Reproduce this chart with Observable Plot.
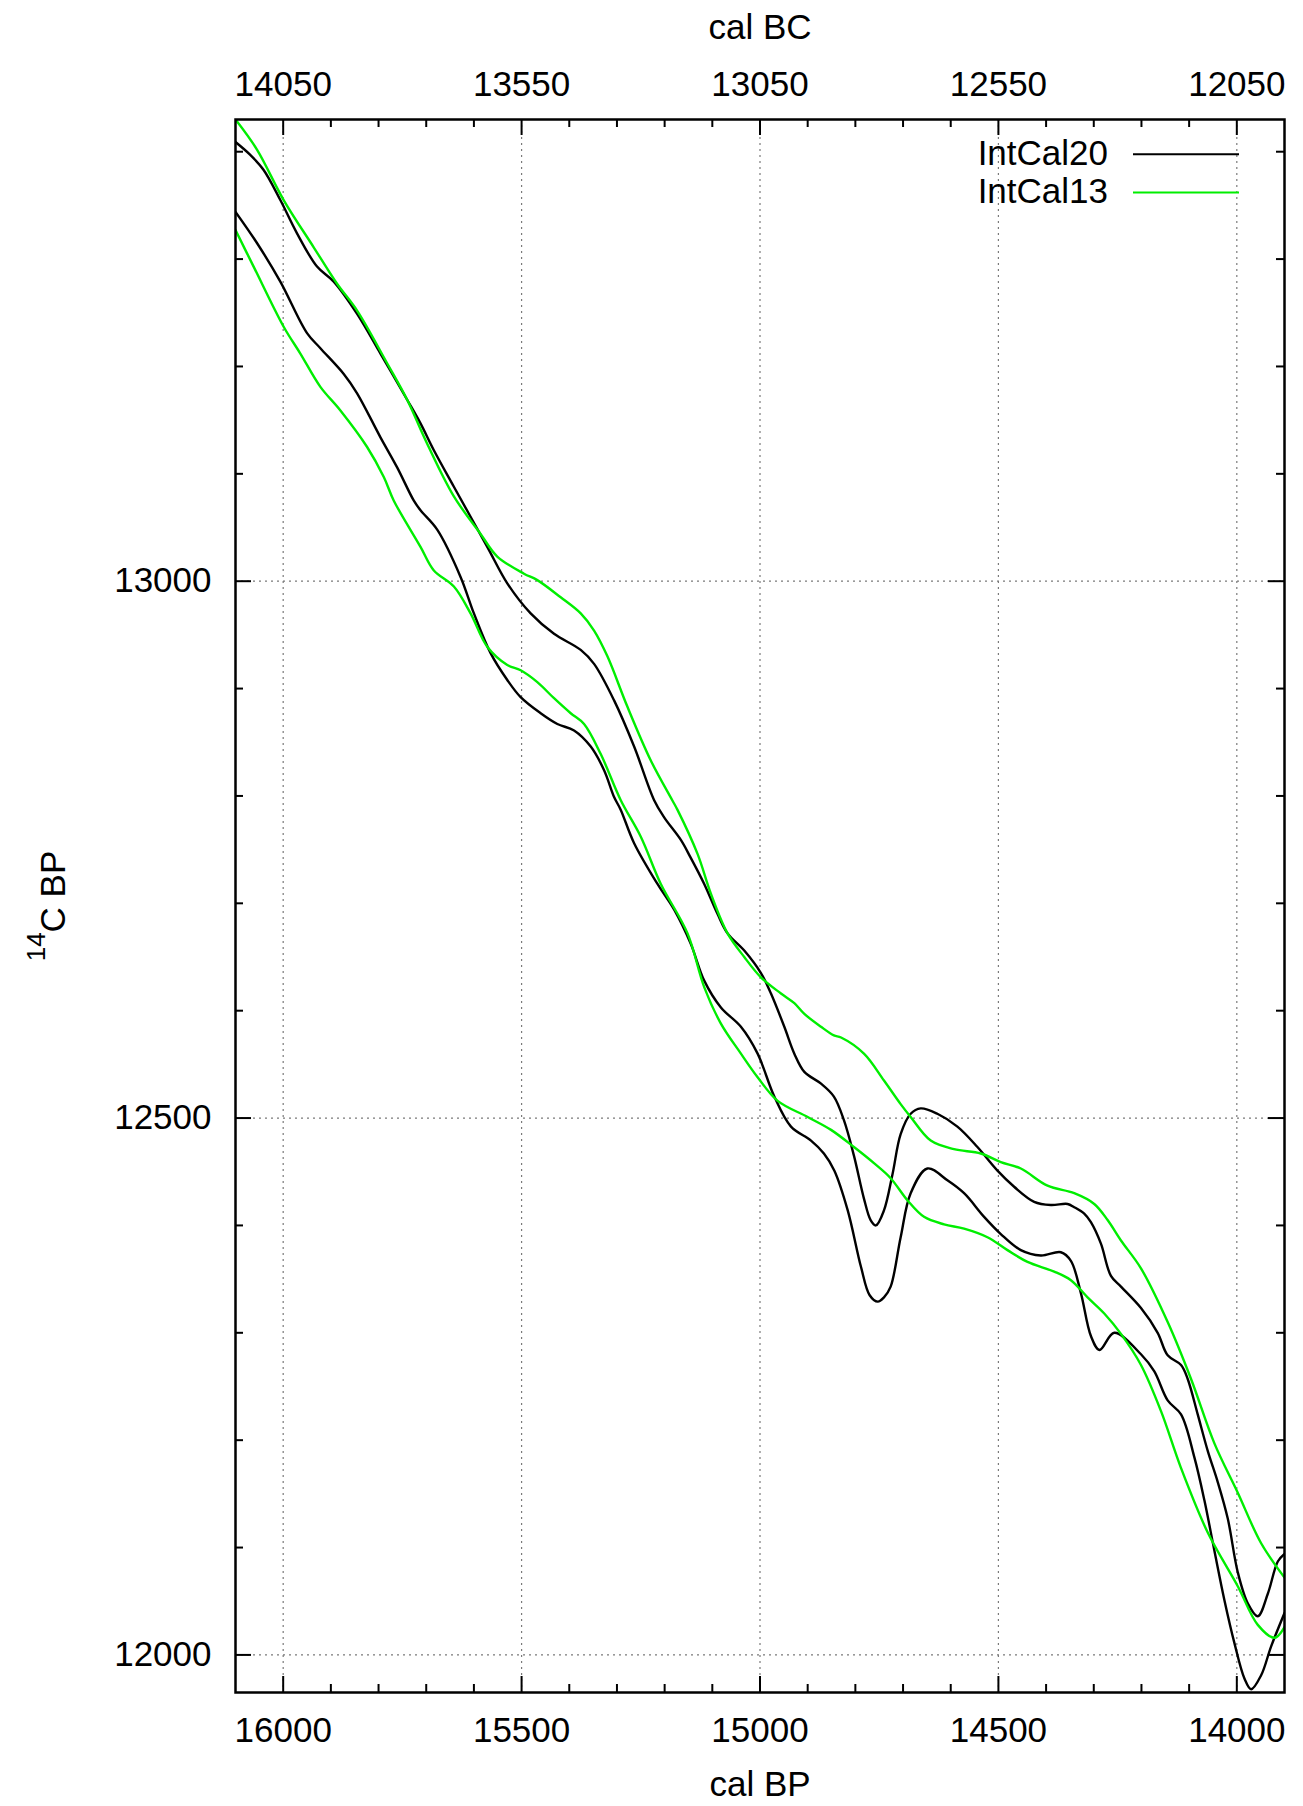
<!DOCTYPE html>
<html>
<head>
<meta charset="utf-8">
<script src="https://cdn.jsdelivr.net/npm/d3@7"></script>
<script src="https://cdn.jsdelivr.net/npm/@observablehq/plot@0.6"></script>
<style>
  html, body { margin: 0; padding: 0; background: #fff; }
  #chart svg { display: block; }
</style>
</head>
<body>
<div id="chart"></div>
<script>
// ---------- data (cal BP, 14C BP) ----------
const seriesNames = ["IntCal20", "IntCal13"];
const seriesColors = ["#000000", "#00ee00"];

const intcal20Upper = [
  [16100,13409],[16069,13397],[16041,13383],[16006,13355],[15971,13324],[15929,13293],[15894,13279],
  [15845,13249],[15796,13212],[15740,13169],[15712,13147],[15684,13122],[15642,13088],[15572,13032],
  [15530,12998],[15481,12970],[15432,12951],[15376,12936],[15348,12923],[15306,12889],[15264,12846],
  [15222,12796],[15201,12780],[15166,12759],[15146,12743],[15117,12718],[15089,12690],[15068,12672],
  [15033,12656],[14998,12635],[14977,12616],[14949,12585],[14928,12560],[14907,12543],[14872,12532],
  [14845,12520],[14824,12498],[14803,12465],[14782,12425],[14768,12405],[14757,12400],[14740,12414],
  [14722,12448],[14705,12485],[14684,12504],[14663,12509],[14628,12504],[14586,12492],[14544,12473],
  [14502,12451],[14467,12436],[14425,12422],[14390,12419],[14355,12420],[14341,12417],[14320,12411],
  [14306,12403],[14285,12383],[14264,12353],[14243,12343],[14201,12323],[14166,12300],[14145,12279],
  [14117,12270],[14103,12257],[14082,12224],[14061,12190],[14040,12161],[14019,12127],[13998,12077],
  [13977,12048],[13956,12036],[13935,12057],[13914,12087],[13900,12094]
];
const intcal20Lower = [
  [16100,13344],[16055,13315],[16006,13279],[15950,13231],[15922,13217],[15873,13193],[15845,13175],
  [15796,13134],[15761,13106],[15726,13075],[15712,13066],[15677,13048],[15628,13004],[15600,12970],
  [15565,12933],[15530,12908],[15502,12892],[15460,12877],[15425,12867],[15390,12861],[15355,12846],
  [15327,12824],[15306,12799],[15292,12787],[15264,12756],[15215,12718],[15180,12694],[15145,12662],
  [15117,12628],[15082,12603],[15040,12585],[15005,12560],[14970,12520],[14935,12492],[14893,12479],
  [14866,12467],[14844,12451],[14816,12414],[14788,12361],[14770,12335],[14753,12329],[14740,12333],
  [14726,12343],[14705,12389],[14684,12430],[14649,12453],[14607,12442],[14572,12430],[14530,12408],
  [14495,12392],[14453,12377],[14411,12372],[14369,12375],[14348,12367],[14327,12337],[14306,12297],
  [14288,12284],[14257,12300],[14201,12280],[14173,12264],[14145,12237],[14117,12224],[14089,12184],
  [14068,12144],[14047,12097],[14026,12051],[14005,12011],[13984,11978],[13970,11968],[13949,11981],
  [13928,12008],[13900,12039]
];
const intcal13Upper = [
  [16100,13430],[16055,13402],[15999,13355],[15936,13311],[15887,13277],[15845,13252],[15782,13203],
  [15740,13169],[15698,13128],[15642,13079],[15586,13044],[15551,13023],[15495,13007],[15467,13001],
  [15418,12985],[15376,12970],[15348,12954],[15320,12930],[15278,12883],[15229,12833],[15184,12796],
  [15173,12787],[15131,12746],[15103,12709],[15068,12672],[15033,12650],[14998,12631],[14956,12616],
  [14928,12607],[14907,12597],[14872,12585],[14845,12577],[14830,12575],[14782,12560],[14740,12535],
  [14705,12513],[14684,12501],[14642,12479],[14593,12471],[14537,12467],[14495,12459],[14453,12453],
  [14397,12437],[14341,12430],[14299,12420],[14271,12405],[14243,12386],[14201,12360],[14145,12310],
  [14096,12257],[14047,12197],[13998,12151],[13949,12104],[13900,12072]
];
const intcal13Lower = [
  [16100,13327],[16062,13293],[15999,13237],[15964,13212],[15922,13181],[15880,13159],[15824,13125],
  [15789,13097],[15768,13075],[15712,13032],[15684,13010],[15642,12995],[15607,12970],[15572,12939],
  [15530,12922],[15502,12917],[15467,12906],[15432,12891],[15397,12877],[15369,12867],[15334,12839],
  [15292,12796],[15250,12762],[15208,12718],[15152,12672],[15117,12622],[15082,12588],[15040,12560],
  [15005,12538],[14963,12516],[14900,12501],[14851,12489],[14803,12473],[14761,12458],[14726,12444],
  [14690,12423],[14656,12408],[14614,12401],[14572,12397],[14523,12389],[14481,12377],[14439,12366],
  [14383,12357],[14348,12349],[14313,12333],[14278,12318],[14243,12299],[14201,12270],[14159,12227],
  [14117,12174],[14061,12114],[13998,12064],[13956,12028],[13921,12016],[13900,12026]
];

// axis ticks
const xDomain = [16100, 13900];
const yDomain = [11965, 13430];
const xMajor = [16000, 15500, 15000, 14500, 14000];
const xMinor = [15900, 15800, 15700, 15600, 15400, 15300, 15200, 15100, 14900, 14800, 14700, 14600, 14400, 14300, 14200, 14100];
const yMajor = [12000, 12500, 13000];
const yMinor = [12100, 12200, 12300, 12400, 12600, 12700, 12800, 12900, 13100, 13200, 13300, 13400];
const calBCOffset = 1950;
const xTitleBottom = "cal BP";
const xTitleTop = "cal BC";
const yTitleSup = "14";
const yTitleMain = "C BP";

// ---------- layout ----------
const W = 1303, H = 1806;
const mL = 235, mR = 19, mT = 119, mB = 114;
const innerW = W - mL - mR, innerH = H - mT - mB;
const FONT = "'Liberation Sans', Arial, Helvetica, sans-serif";
const FS = 35;
const majorLen = 16, minorLen = 8;

const curves = [
  {series: "IntCal20", bound: "upper", pts: intcal20Upper},
  {series: "IntCal20", bound: "lower", pts: intcal20Lower},
  {series: "IntCal13", bound: "upper", pts: intcal13Upper},
  {series: "IntCal13", bound: "lower", pts: intcal13Lower}
];
const rows = curves.flatMap(c => c.pts.map(([bp, c14]) => ({bp, c14, series: c.series, key: c.series + "-" + c.bound})));

const tickStyle = {stroke: "black", strokeWidth: 2};
const gridStyle = {stroke: "#7a7a7a", strokeWidth: 1.2, strokeDasharray: "2,4"};

const plot = Plot.plot({
  width: W,
  height: H,
  marginLeft: mL, marginRight: mR, marginTop: mT, marginBottom: mB,
  style: {fontFamily: FONT, fontSize: FS + "px", background: "white", color: "black", overflow: "visible"},
  x: {domain: xDomain, label: null, axis: null},
  y: {domain: yDomain, label: null, axis: null},
  color: {domain: seriesNames, range: seriesColors},
  marks: [
    // grid
    Plot.ruleX(xMajor, {x: d => d, ...gridStyle}),
    Plot.ruleY(yMajor, {y: d => d, ...gridStyle}),
    // curves
    Plot.line(rows, {x: "bp", y: "c14", z: "key", stroke: "series", strokeWidth: 2.4, curve: "catmull-rom", clip: true}),
    // inward ticks, bottom / top
    Plot.tickX(xMajor, {x: d => d, insetTop: innerH - majorLen, ...tickStyle}),
    Plot.tickX(xMajor, {x: d => d, insetBottom: innerH - majorLen, ...tickStyle}),
    Plot.tickX(xMinor, {x: d => d, insetTop: innerH - minorLen, ...tickStyle}),
    Plot.tickX(xMinor, {x: d => d, insetBottom: innerH - minorLen, ...tickStyle}),
    // inward ticks, left / right
    Plot.tickY(yMajor, {y: d => d, insetRight: innerW - majorLen, ...tickStyle}),
    Plot.tickY(yMajor, {y: d => d, insetLeft: innerW - majorLen, ...tickStyle}),
    Plot.tickY(yMinor, {y: d => d, insetRight: innerW - minorLen, ...tickStyle}),
    Plot.tickY(yMinor, {y: d => d, insetLeft: innerW - minorLen, ...tickStyle}),
    // tick labels
    Plot.axisX({ticks: xMajor, anchor: "bottom", tickSize: 0, tickPadding: 25, tickFormat: d => String(d), fontSize: FS, label: null}),
    Plot.axisX({ticks: xMajor, anchor: "top", tickSize: 0, tickPadding: 24, tickFormat: d => String(d - calBCOffset), fontSize: FS, label: null}),
    Plot.axisY({ticks: yMajor, anchor: "left", tickSize: 0, tickPadding: 24, tickFormat: d => String(d), fontSize: FS, label: null}),
    // frame
    Plot.frame({stroke: "black", strokeWidth: 2.5}),
    // axis titles
    Plot.text([xTitleTop], {text: d => d, frameAnchor: "top", dy: -81, lineAnchor: "bottom", fontSize: FS}),
    Plot.text([xTitleBottom], {text: d => d, frameAnchor: "bottom", dy: 103, lineAnchor: "bottom", fontSize: FS}),
    Plot.text([yTitleSup + yTitleMain], {text: d => d, frameAnchor: "left", textAnchor: "middle", dx: -171, rotate: -90, lineAnchor: "bottom", fontSize: FS})
  ]
});

document.getElementById("chart").appendChild(plot);

// superscript in y title
const svg = d3.select(plot.tagName.toLowerCase() === "svg" ? plot : plot.querySelector("svg"));
svg.selectAll("text").filter(function() { return this.textContent === yTitleSup + yTitleMain; })
  .each(function() {
    const t = d3.select(this);
    t.text(null);
    t.append("tspan").attr("font-size", 26).attr("dy", -20).text(yTitleSup);
    t.append("tspan").attr("font-size", FS).attr("dy", 20).text(yTitleMain);
  });

// legend (top-right, inside the frame, gnuplot style)
const legend = svg.append("g").attr("font-family", FONT).attr("font-size", FS);
seriesNames.forEach((name, i) => {
  const yBase = 165 + i * 38.3;
  legend.append("text").attr("x", 1108).attr("y", yBase).attr("text-anchor", "end").attr("fill", "black").text(name);
  legend.append("line").attr("x1", 1133).attr("x2", 1239).attr("y1", yBase - 10.7).attr("y2", yBase - 10.7)
    .attr("stroke", seriesColors[i]).attr("stroke-width", 2);
});
</script>
</body>
</html>
